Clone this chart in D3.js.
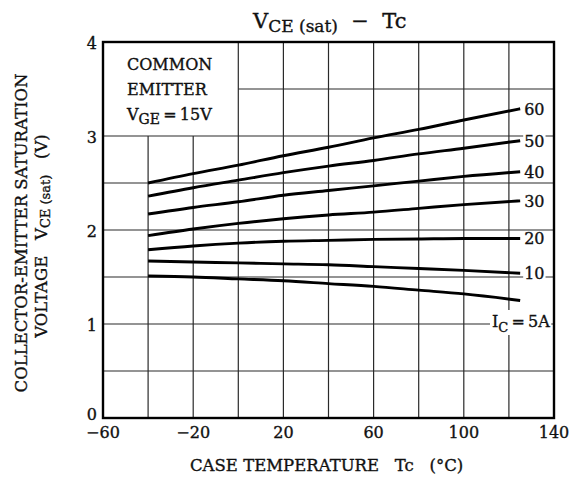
<!DOCTYPE html>
<html>
<head>
<meta charset="utf-8">
<script src="https://cdn.jsdelivr.net/npm/d3@7"></script>
<style>
  html, body { margin: 0; padding: 0; background: #fff; }
  svg { display: block; }
  text { font-family: "DejaVu Serif", "Liberation Serif", serif; fill: #111; stroke: #111; stroke-width: 0.35; }
</style>
</head>
<body>
<div id="chart"></div>
<script>
// ---- data ----
const temps = [-40, -20, 0, 20, 40, 60, 80, 100, 125];
const seriesLabels = ["60", "50", "40", "30", "20", "10", "5A"];
const ic60 = [2.50, 2.60, 2.69, 2.79, 2.88, 2.98, 3.07, 3.17, 3.29];
const ic50 = [2.36, 2.45, 2.53, 2.61, 2.68, 2.74, 2.81, 2.87, 2.95];
const ic40 = [2.17, 2.24, 2.30, 2.37, 2.42, 2.47, 2.52, 2.57, 2.62];
const ic30 = [1.94, 2.01, 2.07, 2.12, 2.16, 2.19, 2.23, 2.27, 2.31];
const ic20 = [1.79, 1.83, 1.86, 1.88, 1.89, 1.90, 1.905, 1.91, 1.91];
const ic10 = [1.67, 1.66, 1.65, 1.64, 1.63, 1.61, 1.59, 1.57, 1.54];
const ic5  = [1.51, 1.50, 1.48, 1.46, 1.43, 1.40, 1.36, 1.32, 1.25];
const xTicks = [-60, -20, 20, 60, 100, 140];
const xGrid = [-40, -20, 0, 20, 40, 60, 80, 100, 120];
const yTicks = [0, 1, 2, 3, 4];
const yGrid = [0.5, 1, 1.5, 2, 2.5, 3, 3.5];

const allSeries = [ic60, ic50, ic40, ic30, ic20, ic10, ic5];

const W = 571, H = 481;
const L = 103, R = 554, T = 42, B = 418;

const svg = d3.select("#chart").append("svg").attr("width", W).attr("height", H);

const x = d3.scaleLinear().domain([-60, 140]).range([L, R]);
const y = d3.scaleLinear().domain([0, 4]).range([B, T]);

const grid = svg.append("g").attr("stroke", "#2a2a2a").attr("stroke-width", 1.2).attr("fill", "none");
// vertical gridlines (left ones stop below annotation box)
xGrid.forEach(v => {
  const top = v < 0 ? 3 : 4;
  grid.append("line").attr("x1", x(v)).attr("x2", x(v)).attr("y1", y(0)).attr("y2", y(top));
});
// horizontal gridlines
yGrid.forEach(v => {
  const left = v > 3 ? 0 : -60;
  grid.append("line").attr("x1", x(left)).attr("x2", x(140)).attr("y1", y(v)).attr("y2", y(v));
});

// curves
const line = d3.line().x((d, i) => x(temps[i])).y(d => y(d)).curve(d3.curveMonotoneX);
svg.append("g").selectAll("path").data(allSeries).join("path")
  .attr("d", line).attr("fill", "none").attr("stroke", "#000").attr("stroke-width", 2.9)
  .attr("stroke-linecap", "butt");

// curve labels
const labG = svg.append("g");
allSeries.forEach((s, i) => {
  const endV = s[s.length - 1];
  if (i < 6) {
    const t = labG.append("text").attr("x", x(temps[temps.length - 1]) + 4).attr("y", y(endV) + 6)
      .attr("font-size", 16).text(seriesLabels[i]);
    const bb = t.node().getBBox();
    labG.insert("rect", "text").attr("x", bb.x - 1).attr("y", bb.y + 2).attr("width", bb.width + 2)
      .attr("height", bb.height - 4).attr("fill", "#fff");
  } else {
    const t = labG.append("text").attr("x", x(112.5)).attr("y", y(1) + 3).attr("font-size", 16)
      .style("white-space", "pre");
    t.append("tspan").text("I");
    t.append("tspan").attr("font-size", 13).attr("dy", 5).text("C");
    t.append("tspan").attr("dy", -5).text("\u2009=\u2009" + seriesLabels[i]);
    const bb = t.node().getBBox();
    labG.insert("rect", "text").attr("x", bb.x - 2).attr("y", bb.y - 2).attr("width", bb.width + 3)
      .attr("height", bb.height + 2).attr("fill", "#fff");
  }
});

// frame
svg.append("rect").attr("x", L).attr("y", T).attr("width", R - L).attr("height", B - T)
  .attr("fill", "none").attr("stroke", "#000").attr("stroke-width", 2.4);

// axes tick labels
svg.append("g").selectAll("text").data(yTicks).join("text")
  .attr("x", L - 6).attr("y", d => y(d) + (d === 0 ? 2 : 7))
  .attr("text-anchor", "end").attr("font-size", 16).text(d => d);
svg.append("g").selectAll("text").data(xTicks).join("text")
  .attr("x", d => x(d)).attr("y", B + 20)
  .attr("text-anchor", "middle").attr("font-size", 16).text(d => d < 0 ? "\u2212" + Math.abs(d) : d);

// annotation
const ann = svg.append("g").attr("font-size", 16);
ann.append("text").attr("x", 127).attr("y", 70).text("COMMON");
ann.append("text").attr("x", 127).attr("y", 95).text("EMITTER");
const vge = ann.append("text").attr("x", 127).attr("y", 120).style("white-space", "pre");
vge.append("tspan").text("V");
vge.append("tspan").attr("font-size", 14).attr("dy", 4).text("GE");
vge.append("tspan").attr("dy", -4).text("\u2009=\u200915V");

// title
const title = svg.append("text").attr("x", 253).attr("y", 28).attr("font-size", 21)
  .style("white-space", "pre");
title.append("tspan").text("V");
title.append("tspan").attr("font-size", 17).attr("dy", 4).text("CE (sat)");
title.append("tspan").attr("dy", -4).text("  \u2212  Tc");

// x axis title
svg.append("text").attr("x", 190).attr("y", 471).attr("font-size", 16.5)
  .style("white-space", "pre").text("CASE TEMPERATURE   Tc   (\u00B0C)");

// y axis title
svg.append("text").attr("transform", "translate(27,233) rotate(-90)")
  .attr("text-anchor", "middle").attr("font-size", 16.5).text("COLLECTOR-EMITTER SATURATION");
const yt2 = svg.append("text").attr("transform", "translate(47,236) rotate(-90)")
  .attr("text-anchor", "middle").attr("font-size", 16.5).style("white-space", "pre");
yt2.append("tspan").text("VOLTAGE   V");
yt2.append("tspan").attr("font-size", 13).attr("dy", 3).text("CE (sat)");
yt2.append("tspan").attr("dy", -3).text("   (V)");
</script>
</body>
</html>
